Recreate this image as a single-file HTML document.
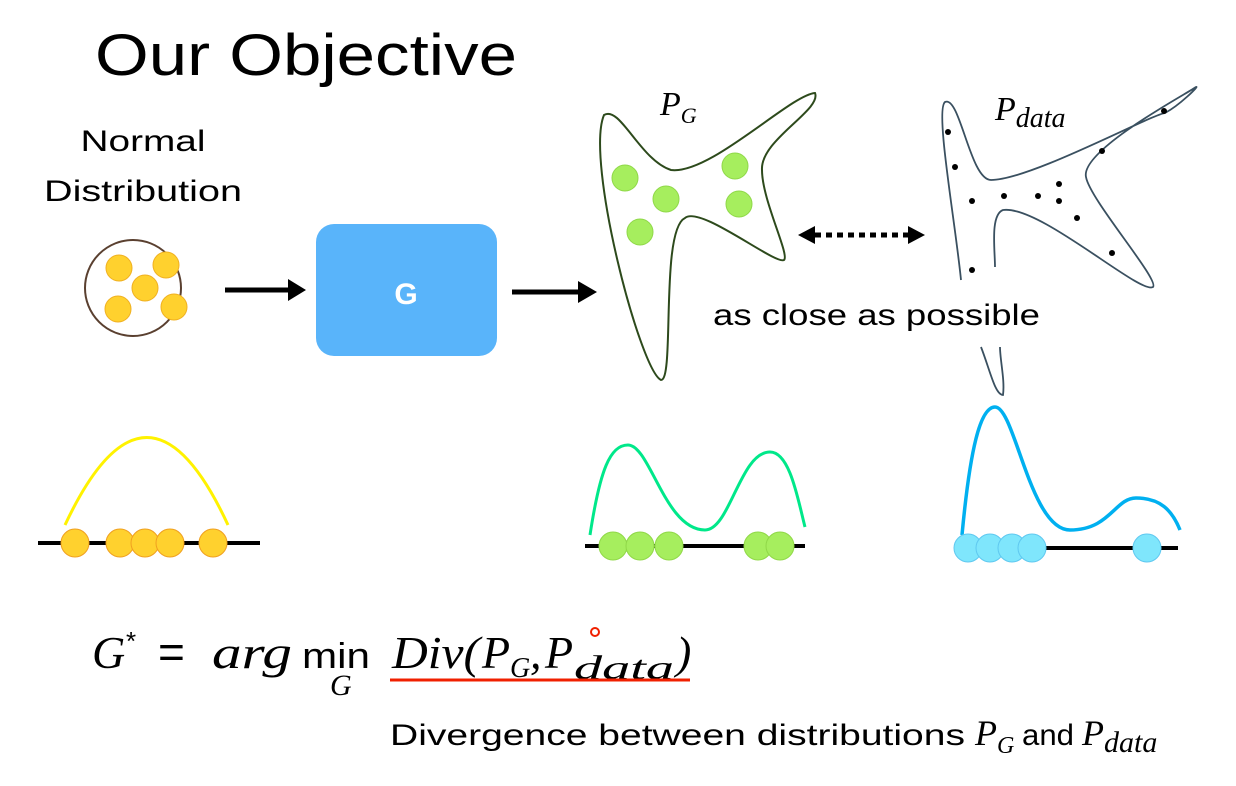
<!DOCTYPE html>
<html><head><meta charset="utf-8"><style>
html,body{margin:0;padding:0;background:#fff;}
svg{display:block;}
text{font-family:"Liberation Sans",sans-serif;}
.m{font-family:"Liberation Serif",serif;font-style:italic;}
</style></head><body>
<svg width="1236" height="786" viewBox="0 0 1236 786">
<text x="95" y="75" font-size="58" textLength="422" lengthAdjust="spacingAndGlyphs">Our Objective</text>
<text x="143" y="151" font-size="30" text-anchor="middle" textLength="125" lengthAdjust="spacingAndGlyphs">Normal</text>
<text x="143" y="201" font-size="30" text-anchor="middle" textLength="198" lengthAdjust="spacingAndGlyphs">Distribution</text>
<circle cx="133" cy="288" r="48" fill="#fff" stroke="#5a4030" stroke-width="2"/>
<g fill="#FFD12E" stroke="#f0b020" stroke-width="1">
<circle cx="119" cy="268" r="13"/><circle cx="166" cy="265" r="13"/><circle cx="145" cy="288" r="13"/><circle cx="118" cy="309" r="13"/><circle cx="174" cy="307" r="13"/>
</g>
<line x1="225" y1="290" x2="290" y2="290" stroke="#000" stroke-width="5"/><path d="M288,279 L306,290 L288,301z"/>
<rect x="316" y="224" width="181" height="132" rx="18" fill="#59B4FA"/>
<text x="406" y="304" font-size="30" font-weight="bold" fill="#fff" text-anchor="middle">G</text>
<line x1="512" y1="292" x2="580" y2="292" stroke="#000" stroke-width="5"/><path d="M578,281 L597,292 L578,303z"/>
<path d="M604,115 C620,105 640,160 671,170 C710,175 790,95 815,93 C822,110 760,140 762,170 C762,200 790,255 784,260 C775,265 700,205 685,218 C660,230 675,380 661,380 C640,370 585,160 604,115z" fill="none" stroke="#2d4a1c" stroke-width="2"/>
<g fill="#A6EE5E" stroke="#8fd848" stroke-width="1">
<circle cx="625" cy="178" r="13"/><circle cx="666" cy="199" r="13"/><circle cx="735" cy="166" r="13"/><circle cx="739" cy="204" r="13"/><circle cx="640" cy="232" r="13"/>
</g>
<text class="m" x="660" y="115" font-size="34">P<tspan font-size="22" dy="8">G</tspan></text>
<line x1="815" y1="235" x2="908" y2="235" stroke="#000" stroke-width="5" stroke-dasharray="6,5"/>
<path d="M798,235 L815,226 L815,244z"/><path d="M925,235 L908,226 L908,244z"/>
<path d="M961,280 C955,220 935,110 945,102 C960,95 970,180 991,180 C1030,180 1150,115 1165,113 C1180,105 1200,85 1196,87 C1190,92 1080,150 1086,177 C1090,200 1160,280 1153,287 C1140,295 1040,205 1003,210 C990,215 995,250 995,267" fill="none" stroke="#3a5060" stroke-width="1.8"/>
<path d="M981,347 C990,370 995,395 1003,395 C1005,380 1000,360 1000,347" fill="none" stroke="#3a5060" stroke-width="1.8"/>
<g fill="#000">
<circle cx="948" cy="132" r="3"/><circle cx="955" cy="167" r="3"/><circle cx="972" cy="201" r="3"/><circle cx="1004" cy="196" r="3"/><circle cx="1038" cy="196" r="3"/><circle cx="1059" cy="184" r="3"/><circle cx="1059" cy="201" r="3"/><circle cx="1077" cy="218" r="3"/><circle cx="1102" cy="151" r="3"/><circle cx="1112" cy="253" r="3"/><circle cx="972" cy="270" r="3"/><circle cx="1164" cy="111" r="3"/>
</g>
<text class="m" x="995" y="120" font-size="34">P<tspan font-size="28" dy="7">data</tspan></text>
<text x="713" y="325" font-size="30" textLength="327" lengthAdjust="spacingAndGlyphs">as close as possible</text>
<line x1="38" y1="543" x2="260" y2="543" stroke="#000" stroke-width="4"/>
<path d="M65,525 Q147,350 228,525" fill="none" stroke="#FFF200" stroke-width="3"/>
<g fill="#FFD12E" stroke="#f0a020" stroke-width="1">
<circle cx="75" cy="543" r="14"/><circle cx="120" cy="543" r="14"/><circle cx="145" cy="543" r="14"/><circle cx="170" cy="543" r="14"/><circle cx="213" cy="543" r="14"/>
</g>
<line x1="585" y1="546" x2="805" y2="546" stroke="#000" stroke-width="4"/>
<path d="M590,535 C600,470 610,445 628,445 C650,445 665,530 705,530 C730,530 740,452 770,452 C790,452 798,500 805,527" fill="none" stroke="#00E88A" stroke-width="3"/>
<g fill="#A6EE5E" stroke="#90d848" stroke-width="1">
<circle cx="613" cy="546" r="14"/><circle cx="640" cy="546" r="14"/><circle cx="669" cy="546" r="14"/><circle cx="758" cy="546" r="14"/><circle cx="780" cy="546" r="14"/>
</g>
<line x1="955" y1="548" x2="1178" y2="548" stroke="#000" stroke-width="4"/>
<path d="M962,535 C970,450 980,407 995,407 C1015,407 1030,530 1070,530 C1110,530 1115,498 1136,498 C1160,498 1172,510 1180,530" fill="none" stroke="#00B0F0" stroke-width="3.5"/>
<g fill="#7FE6FC" stroke="#5fc8f0" stroke-width="1">
<circle cx="968" cy="548" r="14"/><circle cx="990" cy="548" r="14"/><circle cx="1012" cy="548" r="14"/><circle cx="1032" cy="548" r="14"/><circle cx="1147" cy="548" r="14"/>
</g>
<text class="m" x="92" y="668" font-size="46">G</text>
<text x="126" y="650" font-size="26" font-family="Liberation Serif">*</text>
<text x="158" y="668" font-size="46" font-family="Liberation Serif">=</text>
<text class="m" x="212" y="668" font-size="46" textLength="80" lengthAdjust="spacingAndGlyphs">arg</text>
<text x="302" y="668" font-size="36" font-family="Liberation Serif" textLength="68" lengthAdjust="spacingAndGlyphs">min</text>
<text class="m" x="330" y="695" font-size="30">G</text>
<text class="m" x="392" y="668" font-size="46" textLength="88" lengthAdjust="spacingAndGlyphs">Div(</text>
<text class="m" x="482" y="668" font-size="46">P</text>
<text class="m" x="510" y="677" font-size="28">G</text>
<text class="m" x="530" y="668" font-size="46">,</text>
<text class="m" x="545" y="668" font-size="46">P</text>
<text class="m" x="574" y="679" font-size="34" textLength="100" lengthAdjust="spacingAndGlyphs">data</text>
<text class="m" x="676" y="668" font-size="46">)</text>
<line x1="390" y1="680" x2="690" y2="680" stroke="#f02000" stroke-width="3"/>
<circle cx="595" cy="632" r="4" fill="none" stroke="#f02000" stroke-width="2"/>
<text x="390" y="745" font-size="30" textLength="575" lengthAdjust="spacingAndGlyphs">Divergence between distributions</text>
<text class="m" x="975" y="745" font-size="36">P<tspan font-size="24" dy="8">G</tspan></text>
<text x="1022" y="745" font-size="30" textLength="52" lengthAdjust="spacingAndGlyphs">and</text>
<text class="m" x="1082" y="745" font-size="36">P<tspan font-size="30" dy="7">data</tspan></text>
</svg>
</body></html>
